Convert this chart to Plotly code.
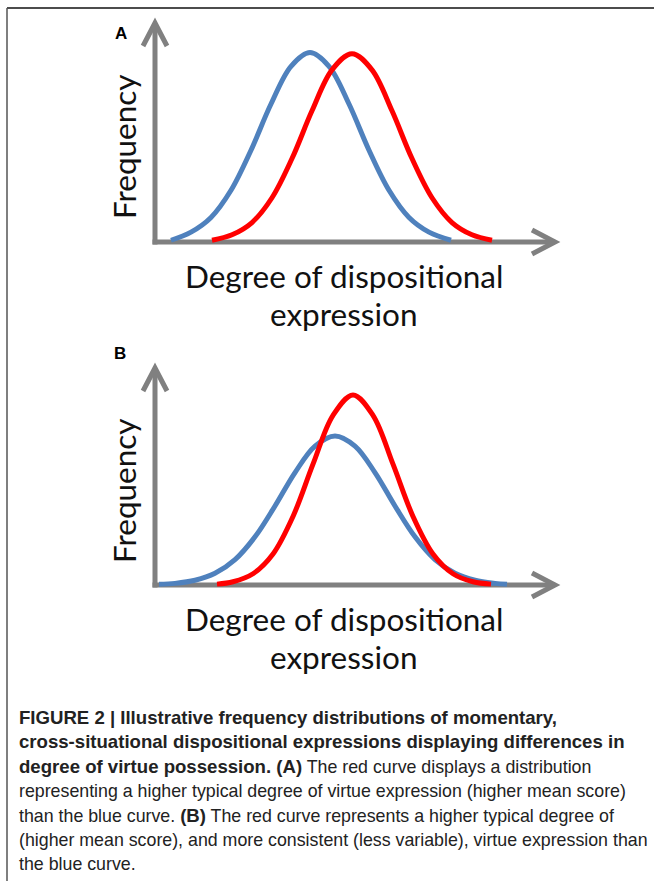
import plotly.graph_objects as go

W, H = 654, 881

# ---------------- data ----------------
# Panel A: red curve shifted to a higher mean
a_blue_x = [0.4, 0.9, 1.4, 1.9, 2.4, 2.9, 3.4, 3.875, 4.35, 4.85, 5.35, 5.85, 6.35, 6.85, 7.4]
a_blue_y = [0.008, 0.045, 0.112, 0.236, 0.419, 0.630, 0.802, 0.865, 0.802, 0.630, 0.419, 0.236, 0.112, 0.045, 0.008]
a_red_x = [1.425, 1.925, 2.425, 2.925, 3.425, 3.925, 4.425, 4.925, 5.425, 5.925, 6.425, 6.925, 7.425, 7.925, 8.425]
a_red_y = [0.008, 0.033, 0.089, 0.202, 0.381, 0.599, 0.786, 0.860, 0.786, 0.599, 0.381, 0.202, 0.089, 0.033, 0.008]

# Panel B: red curve higher mean and less variable
b_blue_x = [0.1, 0.5, 1.0, 1.5, 2.0, 2.5, 3.0, 3.5, 4.0, 4.5, 5.0, 5.5, 6.0, 6.5, 7.0, 7.5, 8.0, 8.5, 8.8]
b_blue_y = [0.003, 0.0075, 0.022, 0.054, 0.117, 0.222, 0.364, 0.518, 0.640, 0.687, 0.640, 0.518, 0.364, 0.222, 0.117, 0.054, 0.022, 0.0075, 0.003]
b_red_x = [1.55, 1.95, 2.45, 2.95, 3.45, 3.95, 4.45, 4.95, 5.45, 5.95, 6.45, 6.95, 7.45, 7.95, 8.4]
b_red_y = [0.004, 0.015, 0.052, 0.143, 0.316, 0.557, 0.782, 0.876, 0.782, 0.557, 0.316, 0.143, 0.052, 0.015, 0.004]

y_title = "Frequency"
x_title_1 = "Degree of dispositional"
x_title_2 = "expression"
panel_labels = ["A", "B"]
# caption lines as (bold part, regular part) pieces
caption_lines = [
    [("b", "FIGURE 2 | Illustrative frequency distributions of momentary,")],
    [("b", "cross-situational dispositional expressions displaying differences in")],
    [("b", "degree of virtue possession. (A)"), ("r", " The red curve displays a distribution")],
    [("r", "representing a higher typical degree of virtue expression (higher mean score)")],
    [("r", "than the blue curve. "), ("b", "(B)"), ("r", " The red curve represents a higher typical degree of")],
    [("r", "(higher mean score), and more consistent (less variable), virtue expression than")],
    [("r", "the blue curve.")],
]

# ---------------- layout constants (pixels) ----------------
BLUE = "#4F81BD"
RED = "#FF0000"
GRAY = "#808080"
XPX0 = 155          # pixel x of data x=0
XUNIT = 40.0        # pixels per data x unit
DOM_X = (130, 580)
panels = [
    dict(base=242, unit=219, top=10, bottom=262, fy=147, t1=276, t2=314, lab=(121, 33)),
    dict(base=585, unit=217, top=356, bottom=605, fy=491, t1=619, t2=657, lab=(120, 353)),
]
CAP_REG = 17.8
CAP_BOLD = 18.6

def px(x):
    return x / W

def py(y):
    return 1 - y / H

fig = go.Figure()
layout = dict(width=W, height=H, margin=dict(l=0, r=0, t=0, b=0),
              paper_bgcolor="white", plot_bgcolor="white", showlegend=False)

curves = [(a_blue_x, a_blue_y, a_red_x, a_red_y), (b_blue_x, b_blue_y, b_red_x, b_red_y)]
shapes = []
annotations = []
for i, (p, c) in enumerate(zip(panels, curves)):
    xa = "x" if i == 0 else "x2"
    ya = "y" if i == 0 else "y2"
    xrange = [(DOM_X[0] - XPX0) / XUNIT, (DOM_X[1] - XPX0) / XUNIT]
    yrange = [(p["base"] - p["bottom"]) / p["unit"], (p["base"] - p["top"]) / p["unit"]]
    axkey = "xaxis" if i == 0 else "xaxis2"
    aykey = "yaxis" if i == 0 else "yaxis2"
    layout[axkey] = dict(domain=[px(DOM_X[0]), px(DOM_X[1])], range=xrange, visible=False,
                         anchor=ya, fixedrange=True)
    layout[aykey] = dict(domain=[py(p["bottom"]), py(p["top"])], range=yrange, visible=False,
                         anchor=xa, fixedrange=True)
    bx, by, rx, ry = c
    fig.add_trace(go.Scatter(x=bx, y=by, mode="lines", xaxis=xa, yaxis=ya,
                             line=dict(color=BLUE, width=5, shape="spline", smoothing=1.0)))
    fig.add_trace(go.Scatter(x=rx, y=ry, mode="lines", xaxis=xa, yaxis=ya,
                             line=dict(color=RED, width=5, shape="spline", smoothing=1.0)))
    # axis arrows
    dxp = 1 / XUNIT
    dyp = 1 / p["unit"]
    xtip = 10.0
    ytip = 1.0
    line = dict(color=GRAY, width=5)
    shapes.append(dict(type="line", xref=xa, yref=ya, x0=0, x1=0, y0=-2.5 * dyp, y1=ytip,
                       line=line, layer="below"))
    shapes.append(dict(type="line", xref=xa, yref=ya, x0=-2.5 * dxp, x1=xtip, y0=0, y1=0,
                       line=line, layer="below"))
    shapes.append(dict(type="path", xref=xa, yref=ya, layer="below", line=line,
                       path=f"M {-12*dxp} {ytip-23*dyp} L 0 {ytip} L {12*dxp} {ytip-23*dyp}"))
    shapes.append(dict(type="path", xref=xa, yref=ya, layer="below", line=line,
                       path=f"M {xtip-23*dxp} {12*dyp} L {xtip} 0 L {xtip-23*dxp} {-12*dyp}"))
    # texts
    tf = dict(family="Lato, Carlito, sans-serif", size=31.5, color="#111111")
    annotations.append(dict(xref="paper", yref="paper", x=px(124), y=py(p["fy"]), text=y_title,
                            textangle=-90, showarrow=False, font=tf, xanchor="center", yanchor="middle"))
    annotations.append(dict(xref="paper", yref="paper", x=px(344), y=py(p["t1"]), text=x_title_1,
                            showarrow=False, font=tf, xanchor="center", yanchor="middle"))
    annotations.append(dict(xref="paper", yref="paper", x=px(344), y=py(p["t2"]), text=x_title_2,
                            showarrow=False, font=tf, xanchor="center", yanchor="middle"))
    annotations.append(dict(xref="paper", yref="paper", x=px(p["lab"][0]), y=py(p["lab"][1]),
                            text=f"<b>{panel_labels[i]}</b>", showarrow=False,
                            font=dict(family="Liberation Sans, Arial, sans-serif", size=17, color="#000"),
                            xanchor="center", yanchor="middle"))

# caption
def piece(kind, s):
    if kind == "b":
        return f'<span style="font-size:{CAP_BOLD}px"><b>{s}</b></span>'
    return s

for k, parts in enumerate(caption_lines):
    t = "".join(piece(kind, s) for kind, s in parts)
    annotations.append(dict(xref="paper", yref="paper", x=px(17), y=py(717 + 24.5 * k), text=t,
                            showarrow=False, xanchor="left", yanchor="middle", align="left",
                            font=dict(family="Liberation Sans, Arial, sans-serif", size=CAP_REG, color="#222222")))

# frame lines (top and left)
shapes.append(dict(type="line", xref="paper", yref="paper", x0=px(7), x1=px(654), y0=py(8), y1=py(8),
                   line=dict(color="#111", width=1.5)))
shapes.append(dict(type="line", xref="paper", yref="paper", x0=px(7), x1=px(7), y0=py(8), y1=py(881),
                   line=dict(color="#555", width=1.5)))

layout["shapes"] = shapes
layout["annotations"] = annotations
fig.update_layout(**layout)
fig.write_html("out.html", config={"displayModeBar": False},
               post_script="document.body.style.margin='0';document.body.style.overflow='hidden';")
